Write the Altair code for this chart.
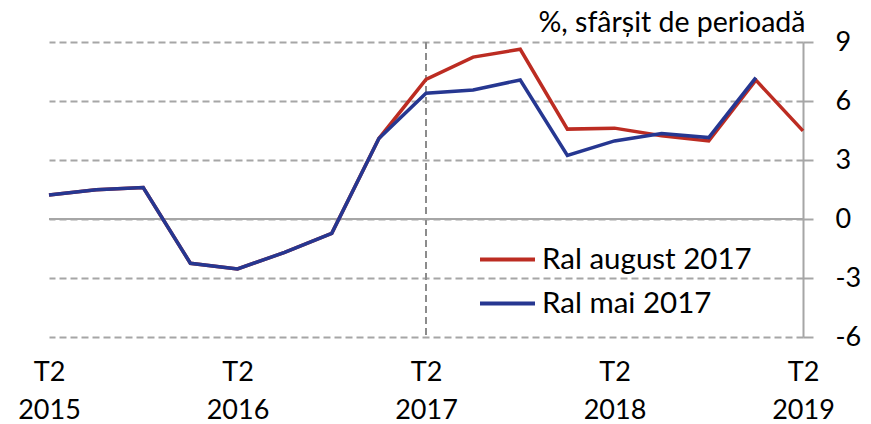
import altair as alt
import pandas as pd

quarters = ["T2 2015", "T3 2015", "T4 2015", "T1 2016", "T2 2016", "T3 2016", "T4 2016",
            "T1 2017", "T2 2017", "T3 2017", "T4 2017", "T1 2018", "T2 2018", "T3 2018",
            "T4 2018", "T1 2019", "T2 2019"]
tick_quarters = ["T2 2015", "T2 2016", "T2 2017", "T2 2018", "T2 2019"]

ral_aug = [1.22, 1.49, 1.60, -2.25, -2.54, -1.70, -0.73, 4.09, 7.10, 8.23, 8.63, 4.57,
           4.62, 4.23, 3.97, 7.06, 4.48]
ral_mai = [1.22, 1.49, 1.60, -2.25, -2.54, -1.70, -0.73, 4.09, 6.40, 6.56, 7.07, 3.23,
           3.97, 4.35, 4.14, 7.19]

series_names = ["Ral august 2017", "Ral mai 2017"]
series_colors = ["#BC2C22", "#263791"]
marker_quarter = ["T2 2017"]
zero_line = [0]
y_ticks = [-6, -3, 0, 3, 6, 9]

FONT = "Lato"
GRID = "#A6A6A6"

df_aug = pd.DataFrame({"q": quarters[:len(ral_aug)], "v": ral_aug, "s": series_names[0]})
df_mai = pd.DataFrame({"q": quarters[:len(ral_mai)], "v": ral_mai, "s": series_names[1]})

xscale = alt.Scale(type="point", padding=0, domain=quarters)

xenc = alt.X("q:O", sort=quarters, scale=xscale,
             axis=alt.Axis(values=tick_quarters, labelExpr="split(datum.label, ' ')",
                           title=None, domain=False, ticks=False, grid=False,
                           labelAngle=0, labelAlign="center", labelFont=FONT,
                           labelFontSize=27, labelColor="black", labelPadding=22,
                           labelLineHeight=38, labelBaseline="top"))

yenc = alt.Y("v:Q", scale=alt.Scale(domain=[-6, 9], nice=False),
             axis=alt.Axis(orient="right", values=y_ticks, labelExpr="'' + datum.value",
                           title="%, sfârșit de perioadă", titleAngle=0,
                           titleAlign="right", titleBaseline="alphabetic",
                           titleX=2, titleY=-11, titleFont=FONT, titleFontSize=28.5,
                           titleFontWeight="normal", titleColor="black",
                           grid=True, gridColor=GRID, gridDash=[7, 4], gridWidth=2,
                           domainColor=GRID, domainWidth=2,
                           tickColor=GRID, tickWidth=2, tickSize=10,
                           labelAlign="left", labelPadding=22, labelFont=FONT,
                           labelFontSize=27, labelColor="black"))

color = alt.Color("s:N", scale=alt.Scale(domain=series_names, range=series_colors),
                  legend=alt.Legend(title=None, orient="none", legendX=429, legendY=188,
                                    symbolType="stroke", symbolSize=3025,
                                    symbolStrokeWidth=4, labelFont=FONT,
                                    labelFontSize=29.5, labelColor="black",
                                    labelOffset=5, rowPadding=-13, labelLimit=400))

vline = alt.Chart(pd.DataFrame({"q": marker_quarter})).mark_rule(
    color="#8C8C8C", strokeDash=[7, 4], strokeWidth=2
).encode(x=alt.X("q:O", sort=quarters, scale=xscale))

zline = alt.Chart(pd.DataFrame({"z": zero_line})).mark_rule(
    color=GRID, strokeWidth=2
).encode(y=alt.Y("z:Q"))

line_aug = alt.Chart(df_aug).mark_line(strokeWidth=3.5).encode(x=xenc, y=yenc, color=color)
line_mai = alt.Chart(df_mai).mark_line(strokeWidth=3.5).encode(x=xenc, y=yenc, color=color)

chart = alt.layer(vline, zline, line_aug, line_mai).properties(
    width=754, height=295,
    autosize=alt.AutoSizeParams(type="none"),
    padding={"left": 41, "top": 34, "right": 60, "bottom": 86},
).configure_view(stroke=None)

chart.save("out.html", embed_options={"renderer": "svg", "actions": False})
